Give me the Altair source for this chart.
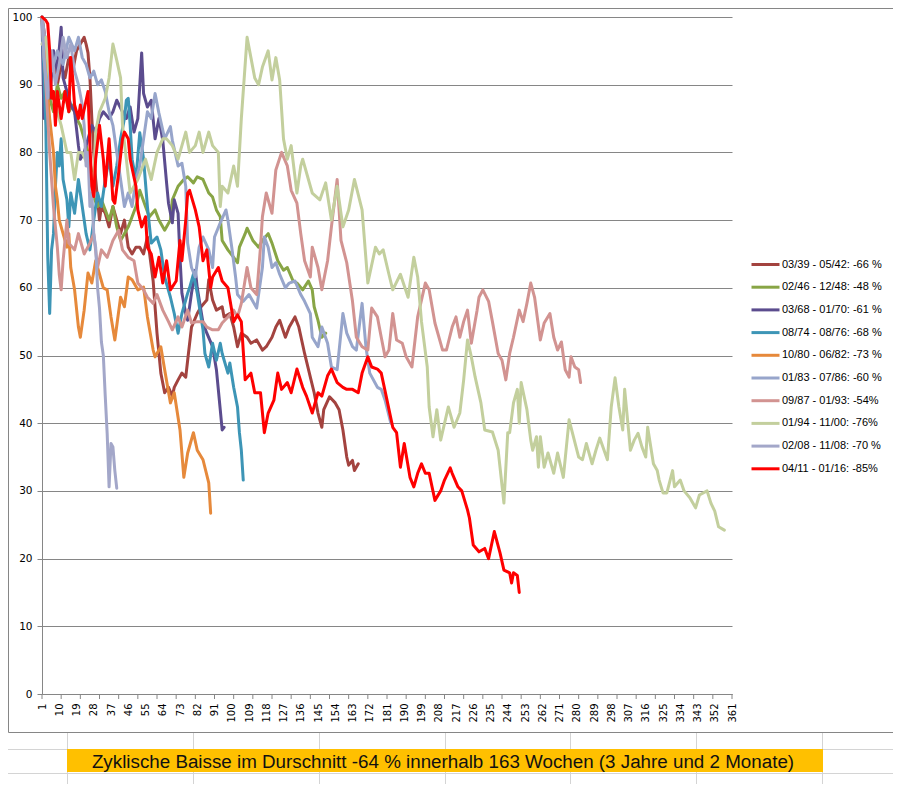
import altair as alt
import pandas as pd

# ---------------- data ----------------
labels = [
    "03/39 - 05/42: -66 %",
    "02/46 - 12/48: -48 %",
    "03/68 - 01/70: -61 %",
    "08/74 - 08/76: -68 %",
    "10/80 - 06/82: -73 %",
    "01/83 - 07/86: -60 %",
    "09/87 - 01/93: -54%",
    "01/94 - 11/00: -76%",
    "02/08 - 11/08: -70 %",
    "04/11 - 01/16: -85%",
]
colors = ["#A3433F", "#88A545", "#5B4C8E", "#3D95B6", "#E6893B",
          "#97A5CB", "#D29391", "#C3CF9D", "#A3A7C9", "#FF0000"]
widths = [3, 3, 3, 3, 3, 3, 3, 3, 3, 3.8]

w1 = [1,3,5,7,9,11,13,15,17,19,21,23,24,25,26,27,28,29,30,31,32,34,36,38,40,42,44,46,48,50,52,54,56,59,61,63,65,67,69,70,72,74,76,77,79,82,84,87,88,90,92,95,96,99,101,103,105,108,110,113,116,118,121,123,125,128,130,133,135,138,141,143,145,147,148,151,154,156,158,160,161,163,164,166]
v1 = [100,96,92,94,90,93,91,94,92,95,96,97,96,94.7,91,85,80,76,73,70,72,71,69,72,70,68,70,66,65,66,66,65,67.5,61,53.3,47.4,44.5,45.3,44,45.3,46.4,47.4,46.8,49.3,54.2,56.2,57.2,58.2,61.2,58.2,56.7,57.2,55.7,56.2,54.2,51.3,53.3,52.7,51.8,52.3,50.8,51.3,52.7,54.2,55.2,52.7,54.2,55.7,54.2,50.3,46.8,44.5,41.5,39.4,42,43.9,43,42,39,35,33.8,34.5,33,34]

w2 = [1,3,5,7,9,11,13,15,17,19,21,23,25,27,28,30,32,34,36,38,40,42,44,46,48,50,52,55,57,60,62,65,68,69,72,75,77,80,82,85,88,90,92,94,95,98,101,103,104,107,108,111,114,116,119,121,124,127,129,132,134,137,140,142,143,145,147,149]
v2 = [100,94,88,86,90,88,89,86,87,85,84,82,80,77,73.4,72,73,71.5,70,72,69,67,68,69,70.5,72,74.4,72,70.5,71.5,70,68.5,70,73,75,76,76.4,75.5,76.4,76,74,73.4,71.5,70.5,67,65.6,64.5,63.7,66,68,68.8,67,66,67,68,66.6,64,62.6,63,61,60.7,59.7,61,59.7,57.2,55.2,52.7,53.3]

w3 = [1,2,3,5,7,9,11,12,14,16,18,20,21,23,25,27,29,31,33,36,38,40,43,45,47,49,51,53,54,56,58,60,62,64,66,67,69,70,72,73,74,76,77,79,81,82,85,87,90,92,94,95,96]
v3 = [100,85,90,88,95,92,98.5,91,89,87,86,81,79,80,82,84,83,85,86,85,86,87.7,86,85,86.7,83,85,94.7,88.7,86.7,87.7,82,85,81.8,75.5,72.5,69.6,73,71,64.5,59.2,56.2,55.2,59.2,62.6,60,54.8,53.3,51.3,47.9,42,39,39.4]

w4 = [1,2,3,4,5,6,7,8,9,10,11,12,14,15,16,18,20,22,24,26,28,30,32,34,36,38,40,42,44,45,46,47,48,50,52,54,56,58,61,63,65,68,70,72,74,77,78,80,82,85,86,88,90,92,94,95,98,99,101,103,104,105,106]
v4 = [100,92,84,64.5,56.2,65.6,68,75,80,78,82,76,73,69,74,71,76,72,68,65.6,70,74,72,76,79,75,78,82,85,87.7,88,84,79,76,82.9,79,72,66.6,67.5,65.6,61.6,58.6,56.2,53.3,56.2,59.2,60,62,59.2,53.8,50.3,48.3,51.8,49.3,51.8,50.3,47.4,48.9,45.3,42.4,38.6,36,31.6]

w5 = [1,3,5,7,8,9,10,12,14,15,16,18,20,21,23,25,27,29,31,33,35,37,39,42,44,46,48,51,54,56,59,60,63,65,68,70,73,75,77,80,82,85,88,89]
v5 = [100,92,85,80,75,73,70,68,66,68,63,59.7,54.2,52.7,56.7,62.2,60.7,64,62,60,59.7,55.7,52.3,58.6,57.2,61.6,61.2,59.7,60.1,55.7,50.8,49.8,51.3,47.9,43,44.5,39,32,35.6,38.6,36,34.6,31.2,26.7]

w6 = [1,3,6,9,12,15,18,20,22,24,26,28,30,32,34,36,38,40,42,44,46,48,50,52,54,56,58,60,62,64,65,68,69,72,74,76,77,79,81,83,85,88,90,91,94,97,98,100,102,103,106,109,111,113,116,117,119,121,123,125,128,130,133,136,138,141,142,145,147,150,152,155,158,160,163,165,168,170,172,176,178,180,183]
v6 = [100,96,92,95,93,97,95,97,94,93,91,92,90,90.7,89,86,84,80,76,72,74,72,76,78,82,86,85,88.7,85.8,83.3,82,83.8,81.8,78,78.4,75,66.6,63,61.6,66,67.5,65.6,63,67.5,69.6,71.5,70,66,61.6,59,58,59,58,57,63,67.5,66,63,63.7,62,60,60.7,61,59,58,56.2,52.7,51.3,54.2,51.8,48.3,47.9,56.2,53.3,51.3,50.8,57.7,51.3,47.4,45.3,45,43.4,40]

w7 = [1,3,5,7,9,10,11,12,14,15,18,20,23,26,28,30,32,35,38,41,43,46,49,51,54,56,59,61,64,67,69,72,74,77,79,82,85,87,90,93,95,98,101,103,105,108,110,113,115,116,118,121,123,126,129,131,134,136,138,141,142,145,147,150,152,155,157,160,163,165,168,171,173,176,178,180,182,184,186,189,191,194,197,201,203,206,210,212,215,217,219,221,223,225,228,229,231,234,236,239,241,243,245,247,250,252,254,256,258,261,263,266,268,270,272,274,276,277,279,281,282]
v7 = [100,90,80,72,66,62,59.7,64,70,66.6,65.6,68,65,66.6,68,63,65.6,64.5,67,68.5,65.6,64.5,64,60.7,59.7,58.6,57.7,59,56.7,55,53.8,55.7,54.2,56.7,54.8,55,55,54.2,53.8,53.8,54.8,55.7,56.7,55.7,57.7,63,60,59,66,70.5,74,71,77.4,80,78,74.4,72.5,68,64,61.6,66,63,59.7,64,69,76,67,63.7,58,52.7,51.3,50.8,57,55.7,52.7,49.8,50.8,56.2,52.3,51.8,49.8,48.3,55.7,60.7,59.7,54.8,50.8,50.8,54.2,55.7,52.7,55,56.7,51.8,56.7,58.6,59.7,58,55,50.3,49.3,46.4,50.3,52.7,56.7,55,57.7,60.7,58.6,52.3,54.8,56.2,52.7,50.8,52,47.9,46.8,49.8,48.3,47.9,46]

w8 = [1,3,5,8,11,14,16,18,20,22,25,28,29,31,34,36,38,40,42,43,45,47,51,55,58,61,64,66,69,72,76,78,81,83,85,88,90,93,94,95,98,101,103,105,108,110,112,114,116,119,121,123,125,127,129,131,134,136,137,140,142,146,149,152,155,158,161,164,168,171,175,177,179,182,184,188,192,195,197,199,202,203,205,207,209,213,216,219,221,223,225,227,230,232,236,239,242,244,245,247,249,250,251,254,256,257,259,260,261,263,265,268,270,273,276,281,283,285,288,290,292,296,298,300,302,304,305,307,308,310,312,314,316,317,320,322,323,325,327,330,331,334,336,339,342,344,348,350,352,354,357]
v8 = [96,97,90,87,84,80,80,76,80,80,78,76,83,86,88,91,96,93.6,91,84,79,74,76,79,76,80,82,82,81,79,83,80,81,83,80,83,81,80,72,75,74,78,75,85,97,94,91,90,92.6,95,90.7,94,90.7,82,79,81,74,78,79,76,74,73,75.5,70,75,69,71.5,76,71.5,60.7,66,65,65.6,62,59.7,62,58.6,64.5,61.6,55,48.3,42.4,38,42,37.5,42.4,39.4,41.5,46.4,52.3,49.8,46.8,43,39,38.7,36,28.2,38.6,38.6,43,45,40,46,42,37.5,36,38,33.5,38,33.5,35.6,32.6,35.6,32,40.5,35,34.6,37,34,36,37.8,34.6,42.4,46.7,42.4,39,45,39,36,37.5,38.5,36.5,35,39.4,34,33,31.6,29.7,29.7,33,30.6,31.6,30,29,27.5,29.4,30,28.2,27,24.7,24.2]

w9 = [1,2,4,6,8,10,12,14,16,18,20,22,23,24,25,26,27,28,29,30,31,32,33,34,35,36,37,38,39,40]
v9 = [100,94,88,95,90,93,97,94,96,92,90,87,84,78,80,72,74,68,66,60,57,52,50,44,38.5,30.6,37,36.5,33,30.4]

w10 = [1,3,4,5,6,7,8,9,11,13,15,16,17,18,20,21,22,25,26,27,28,29,31,33,34,36,38,39,41,43,44,46,47,50,51,53,55,56,58,60,62,64,66,68,71,73,74,76,77,78,81,83,85,87,89,90,93,95,98,101,103,105,107,110,112,115,117,119,122,124,126,129,131,134,137,139,142,145,147,150,152,155,158,160,163,166,168,171,173,176,178,181,184,186,188,190,193,195,197,199,201,203,206,209,211,214,215,218,220,223,224,226,229,232,234,237,240,242,245,246,247,249,250]
v10 = [100,99.5,99,95,88,89,84,89,85,89,86,94,91,87,85,87,85,89,81,75,73.5,79,84,79,75,82,73,72.5,77,82,83,82,79,75,71.5,69,70.5,66,65,61.6,64.5,60.7,64,59.7,61,67,64,70,74,74.4,71.5,69,64,65.6,60,61.6,63,61,60,55,56,55,46.4,47.4,44.5,44.5,38.6,41.5,43.4,47.4,45,46,44.5,48,45.3,44,41.5,44.5,44,47,48,46,45.3,45,45,44.5,47.4,49.8,48.3,48,47.4,43.4,39.4,38.6,33.5,37,32,30.6,32.6,34,32.6,32.6,28.6,30,31.6,33.4,32.6,30.6,30,27.2,26,22,21,21.5,20,24,20.8,18.3,17.9,16.4,17.9,17.5,15]

x_label_values = list(range(1, 362, 9))
x_tick_values = list(range(1, 362, 10))
y_values = list(range(0, 101, 10))
banner_text = "Zyklische Baisse im Durschnitt -64 % innerhalb 163 Wochen (3 Jahre und 2 Monate)"

weeks = [w1, w2, w3, w4, w5, w6, w7, w8, w9, w10]
vals = [v1, v2, v3, v4, v5, v6, v7, v8, v9, v10]

rows = []
for i, (lab, ws, vs) in enumerate(zip(labels, weeks, vals)):
    for wk, v in zip(ws, vs):
        rows.append({"series": lab, "idx": i, "week": wk, "value": v})
df = pd.DataFrame(rows)

# ---------------- geometry ----------------
W, H = 690, 677
GRID = "#868686"
FONT = "Liberation Sans"

xscale = alt.Scale(domain=[1, 361], nice=False, zero=False)
yscale = alt.Scale(domain=[0, 100], nice=False)
xaxis = alt.Axis(values=x_label_values, labelAngle=270, ticks=False, tickSize=0,
                 labelPadding=9, domainColor=GRID, grid=False, labelFont="DejaVu Sans",
                 labelFontSize=10, labelColor="#000000", labelFlush=False,
                 labelOverlap=False, labelBound=False, title=None)

lines = alt.Chart(df).mark_line(strokeJoin="round", strokeCap="round", clip=False).encode(
    x=alt.X("week:Q", scale=xscale, title=None, axis=xaxis),
    y=alt.Y("value:Q", scale=yscale, title=None,
            axis=alt.Axis(values=y_values, tickSize=5, tickColor=GRID, domainColor=GRID,
                          gridColor=GRID, gridOpacity=1, labelPadding=5, labelFont="DejaVu Sans",
                          labelFontSize=10.5, labelColor="#000000", labelFlush=False)),
    color=alt.Color("series:N", scale=alt.Scale(domain=labels, range=colors),
                    legend=alt.Legend(title=None, orient="none", legendX=708, legendY=232,
                                      symbolType="stroke", symbolSize=784, symbolStrokeWidth=3,
                                      labelFont=FONT, labelFontSize=11, labelColor="#000000",
                                      labelOffset=1, rowPadding=0.7, padding=0, offset=0)),
    strokeWidth=alt.StrokeWidth("series:N", scale=alt.Scale(domain=labels, range=widths), legend=None),
    order=alt.Order("week:Q"),
    detail="idx:N",
)

ticks = alt.Chart(pd.DataFrame({"week": x_tick_values})).mark_rule(color=GRID, strokeWidth=1).encode(
    x=alt.X("week:Q", scale=xscale, title=None, axis=xaxis), y=alt.value(H), y2=alt.value(H + 5)
)

one = pd.DataFrame({"a": [0]})
deco = []
# chart frame
deco.append(alt.Chart(one).mark_rect(fillOpacity=0, stroke=GRID, strokeWidth=1).encode(
    x=alt.value(-33.5), x2=alt.value(855.5), y=alt.value(-8.5), y2=alt.value(715.5)))
# spreadsheet grid below chart
for px in [25, 151, 277, 403, 528, 654, 780]:
    deco.append(alt.Chart(one).mark_rule(color="#D4D4D4", strokeWidth=1).encode(
        x=alt.value(px + 0.5), y=alt.value(716), y2=alt.value(800)))
for py in [732, 756, 773]:
    deco.append(alt.Chart(one).mark_rule(color="#D4D4D4", strokeWidth=1).encode(
        x=alt.value(-34), x2=alt.value(860), y=alt.value(py + 0.5)))
# banner
deco.append(alt.Chart(one).mark_rect(color="#FFC000").encode(
    x=alt.value(25), x2=alt.value(781), y=alt.value(732), y2=alt.value(755)))
deco.append(alt.Chart(one).mark_text(font=FONT, fontSize=18.8, color="#111111", align="center",
                                     baseline="alphabetic").encode(
    x=alt.value(401), y=alt.value(751), text=alt.value(banner_text)))

chart = alt.layer(*deco, ticks, lines).properties(
    width=W, height=H,
    autosize=alt.AutoSizeParams(type="none"),
    padding={"left": 34, "top": 9, "right": 885 - 34 - W, "bottom": 776 - 9 - H},
    background="white",
).configure_view(strokeWidth=0)

chart.save("out.html", embed_options={"renderer": "svg", "actions": False})
